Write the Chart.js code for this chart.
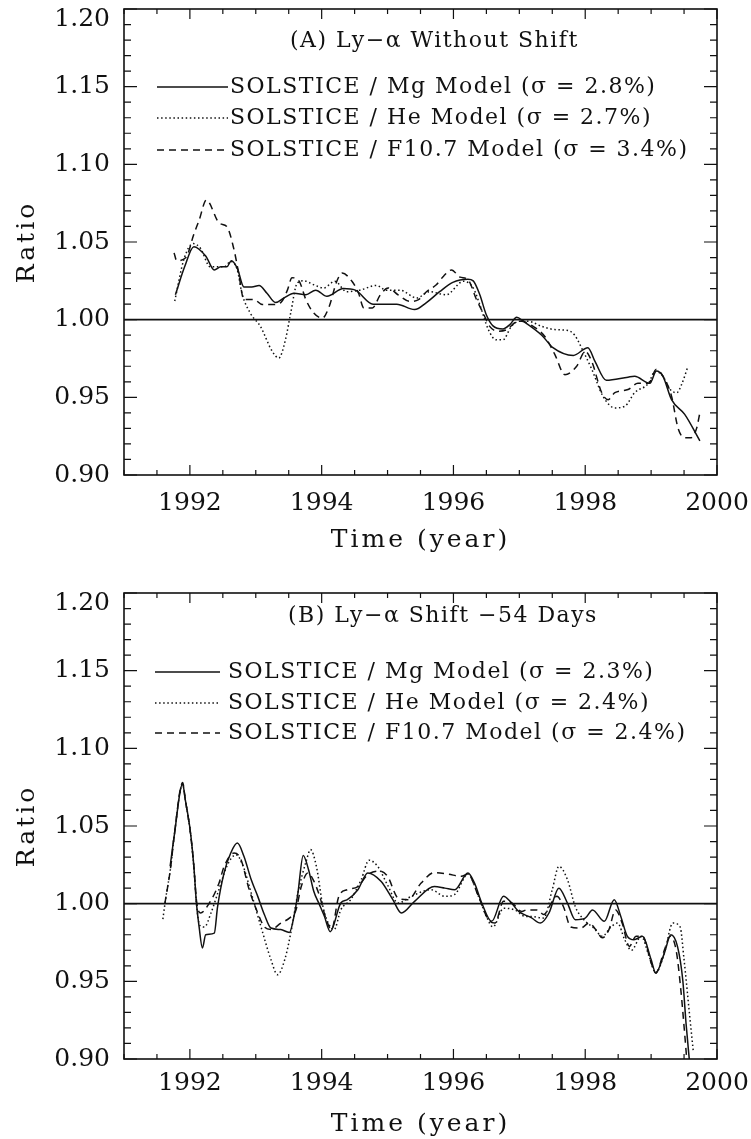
<!DOCTYPE html>
<html>
<head>
<meta charset="utf-8">
<script src="https://cdn.jsdelivr.net/npm/chart.js@4.4.0/dist/chart.umd.min.js"></script>
<style>
  body { margin: 0; background: #fff; width: 751px; height: 1139px; overflow: hidden; position: relative; }
  .panel { position: absolute; left: 0; width: 751px; }
  #panelA { top: -10px; height: 570px; }
  #panelB { top: 574px; height: 565px; }
</style>
</head>
<body>
<div class="panel" id="panelA"><canvas id="chartA"></canvas></div>
<div class="panel" id="panelB"><canvas id="chartB"></canvas></div>
<script>
// ---- data (year, ratio) ----
const unityYears = [1991, 2000];
const unityVals = [1, 1];

// (A) without shift
const yearsMgA = [1991.78, 1991.92, 1992.06, 1992.24, 1992.37, 1992.47, 1992.56, 1992.63, 1992.72, 1992.82, 1992.94, 1993.05, 1993.17, 1993.30, 1993.43, 1993.58, 1993.76, 1993.91, 1994.08, 1994.33, 1994.51, 1994.78, 1995.14, 1995.41, 1995.59, 1995.79, 1995.99, 1996.22, 1996.30, 1996.40, 1996.50, 1996.60, 1996.75, 1996.86, 1996.96, 1997.06, 1997.34, 1997.51, 1997.82, 1998.04, 1998.15, 1998.32, 1998.65, 1998.75, 1998.98, 1999.08, 1999.18, 1999.31, 1999.51, 1999.74];
const mgA = [1.016, 1.034, 1.047, 1.041, 1.032, 1.034, 1.034, 1.038, 1.033, 1.021, 1.021, 1.022, 1.017, 1.011, 1.014, 1.017, 1.016, 1.019, 1.015, 1.020, 1.019, 1.010, 1.010, 1.0065, 1.011, 1.018, 1.024, 1.026, 1.025, 1.016, 1.003, 0.996, 0.994, 0.997, 1.0015, 0.999, 0.990, 0.982, 0.977, 0.982, 0.973, 0.961, 0.963, 0.9635, 0.959, 0.967, 0.9635, 0.9485, 0.939, 0.922];

const yearsHeA = [1991.77, 1991.91, 1992.05, 1992.16, 1992.31, 1992.52, 1992.62, 1992.72, 1992.79, 1992.92, 1993.07, 1993.25, 1993.35, 1993.45, 1993.53, 1993.63, 1993.73, 1993.88, 1994.03, 1994.20, 1994.38, 1994.58, 1994.83, 1994.98, 1995.19, 1995.44, 1995.64, 1995.89, 1996.15, 1996.30, 1996.40, 1996.53, 1996.65, 1996.75, 1996.88, 1997.00, 1997.13, 1997.34, 1997.54, 1997.74, 1997.84, 1997.97, 1998.10, 1998.27, 1998.45, 1998.60, 1998.75, 1998.96, 1999.06, 1999.18, 1999.29, 1999.39, 1999.46, 1999.56];
const heA = [1.012, 1.039, 1.049, 1.046, 1.034, 1.034, 1.0375, 1.032, 1.017, 1.004, 0.9957, 0.9796, 0.9753, 0.987, 1.0043, 1.0236, 1.025, 1.0225, 1.0204, 1.0247, 1.018, 1.019, 1.022, 1.019, 1.019, 1.014, 1.018, 1.016, 1.0247, 1.0204, 1.0097, 0.9936, 0.987, 0.987, 0.9957, 0.999, 0.999, 0.9957, 0.9936, 0.993, 0.990, 0.9796, 0.968, 0.9507, 0.9432, 0.9442, 0.953, 0.959, 0.9667, 0.9635, 0.955, 0.953, 0.958, 0.970];

const yearsF107A = [1991.76, 1991.80, 1991.94, 1992.06, 1992.14, 1992.25, 1992.45, 1992.56, 1992.67, 1992.74, 1992.82, 1992.97, 1993.10, 1993.25, 1993.38, 1993.48, 1993.55, 1993.66, 1993.76, 1993.88, 1994.01, 1994.11, 1994.23, 1994.31, 1994.46, 1994.56, 1994.64, 1994.77, 1994.89, 1995.01, 1995.16, 1995.34, 1995.47, 1995.59, 1995.74, 1995.85, 1995.97, 1996.10, 1996.22, 1996.35, 1996.45, 1996.55, 1996.68, 1996.81, 1996.93, 1997.03, 1997.21, 1997.39, 1997.54, 1997.69, 1997.87, 1998.00, 1998.10, 1998.25, 1998.35, 1998.45, 1998.65, 1998.80, 1998.96, 1999.08, 1999.21, 1999.31, 1999.41, 1999.51, 1999.61, 1999.69, 1999.74];
const f107A = [1.043, 1.038, 1.040, 1.055, 1.064, 1.077, 1.062, 1.060, 1.045, 1.030, 1.013, 1.013, 1.0097, 1.0097, 1.011, 1.019, 1.027, 1.0247, 1.0129, 1.0043, 1.001, 1.008, 1.0247, 1.030, 1.0247, 1.017, 1.0075, 1.0075, 1.016, 1.0204, 1.016, 1.0118, 1.0129, 1.018, 1.0225, 1.028, 1.032, 1.0274, 1.0258, 1.0129, 1.0043, 0.9957, 0.9925, 0.9936, 0.998, 0.999, 0.9957, 0.989, 0.9775, 0.9646, 0.970, 0.9796, 0.973, 0.953, 0.9485, 0.953, 0.955, 0.959, 0.959, 0.968, 0.9614, 0.9507, 0.930, 0.924, 0.924, 0.930, 0.940];

// (B) shifted -54 days
const yearsMgB = [1991.70, 1991.76, 1991.89, 1991.93, 1992.01, 1992.06, 1992.10, 1992.14, 1992.19, 1992.24, 1992.37, 1992.42, 1992.52, 1992.62, 1992.72, 1992.82, 1992.93, 1993.03, 1993.13, 1993.23, 1993.38, 1993.51, 1993.59, 1993.64, 1993.72, 1993.80, 1993.88, 1993.96, 1994.04, 1994.13, 1994.29, 1994.39, 1994.55, 1994.70, 1994.90, 1995.08, 1995.21, 1995.41, 1995.71, 1995.87, 1996.02, 1996.22, 1996.32, 1996.43, 1996.58, 1996.76, 1996.86, 1996.99, 1997.18, 1997.32, 1997.45, 1997.60, 1997.73, 1997.85, 1998.00, 1998.11, 1998.29, 1998.44, 1998.54, 1998.64, 1998.74, 1998.87, 1999.00, 1999.07, 1999.20, 1999.30, 1999.40, 1999.48, 1999.53, 1999.59];
const mgB = [1.024, 1.043, 1.077, 1.067, 1.0455, 1.024, 1.000, 0.985, 0.9715, 0.980, 0.981, 0.998, 1.020, 1.0326, 1.039, 1.0305, 1.0155, 1.0047, 0.993, 0.9843, 0.9833, 0.9815, 0.994, 1.007, 1.031, 1.022, 1.008, 1.000, 0.992, 0.982, 1.0004, 1.0026, 1.009, 1.0198, 1.0144, 1.0026, 0.994, 1.0015, 1.011, 1.010, 1.009, 1.0198, 1.0133, 1.0004, 0.9886, 1.0047, 1.0015, 0.995, 0.991, 0.9875, 0.994, 1.010, 1.0004, 0.9897, 0.9907, 0.996, 0.9886, 1.0026, 0.9918, 0.979, 0.9768, 0.979, 0.964, 0.9554, 0.968, 0.980, 0.9725, 0.951, 0.923, 0.895];

const yearsHeB = [1991.59, 1991.63, 1991.71, 1991.76, 1991.89, 1991.93, 1992.01, 1992.06, 1992.10, 1992.15, 1992.22, 1992.32, 1992.44, 1992.56, 1992.70, 1992.80, 1992.93, 1993.08, 1993.23, 1993.33, 1993.44, 1993.54, 1993.64, 1993.77, 1993.83, 1993.92, 1994.02, 1994.10, 1994.19, 1994.29, 1994.44, 1994.60, 1994.72, 1994.85, 1995.00, 1995.16, 1995.36, 1995.66, 1995.87, 1996.02, 1996.22, 1996.38, 1996.50, 1996.60, 1996.76, 1996.93, 1997.09, 1997.17, 1997.37, 1997.50, 1997.60, 1997.73, 1997.85, 1997.98, 1998.13, 1998.26, 1998.39, 1998.49, 1998.60, 1998.70, 1998.85, 1998.97, 1999.07, 1999.20, 1999.33, 1999.44, 1999.50, 1999.58, 1999.64];
const heB = [0.990, 1.0026, 1.024, 1.043, 1.077, 1.067, 1.045, 1.024, 1.000, 0.986, 0.985, 0.994, 1.009, 1.024, 1.0315, 1.025, 1.007, 0.985, 0.964, 0.9543, 0.964, 0.983, 1.007, 1.028, 1.0348, 1.024, 0.998, 0.9875, 0.9833, 0.996, 1.0026, 1.0155, 1.028, 1.024, 1.012, 1.0004, 1.0047, 1.009, 1.0047, 1.006, 1.019, 1.0047, 0.9918, 0.985, 0.997, 0.996, 0.9918, 0.9918, 0.9907, 1.009, 1.024, 1.0155, 0.998, 0.9897, 0.9843, 0.979, 0.985, 0.9875, 0.9768, 0.970, 0.979, 0.966, 0.9554, 0.968, 0.9875, 0.985, 0.964, 0.930, 0.905];

const yearsF107B = [1991.62, 1991.71, 1991.76, 1991.89, 1991.93, 1992.01, 1992.06, 1992.10, 1992.16, 1992.29, 1992.44, 1992.52, 1992.67, 1992.77, 1992.90, 1993.03, 1993.13, 1993.23, 1993.38, 1993.51, 1993.61, 1993.69, 1993.79, 1993.87, 1993.97, 1994.07, 1994.15, 1994.26, 1994.39, 1994.55, 1994.70, 1994.88, 1995.00, 1995.16, 1995.31, 1995.51, 1995.71, 1995.92, 1996.12, 1996.22, 1996.38, 1996.53, 1996.63, 1996.76, 1996.89, 1997.04, 1997.11, 1997.27, 1997.37, 1997.50, 1997.57, 1997.67, 1997.78, 1997.93, 1998.06, 1998.16, 1998.26, 1998.36, 1998.46, 1998.56, 1998.67, 1998.77, 1998.87, 1999.00, 1999.07, 1999.20, 1999.29, 1999.38, 1999.45, 1999.50, 1999.55];
const f107B = [1.000, 1.024, 1.043, 1.078, 1.067, 1.045, 1.024, 1.002, 0.994, 1.000, 1.013, 1.024, 1.0326, 1.029, 1.009, 0.994, 0.985, 0.9833, 0.9875, 0.9907, 0.996, 1.011, 1.0198, 1.0155, 1.0047, 0.9897, 0.9833, 1.0047, 1.009, 1.011, 1.0187, 1.021, 1.0176, 1.0036, 1.0026, 1.0133, 1.020, 1.019, 1.0176, 1.019, 1.0047, 0.9897, 0.9875, 1.0015, 1.0004, 0.995, 0.996, 0.996, 0.993, 1.0015, 1.0047, 0.998, 0.985, 0.9843, 0.9875, 0.9833, 0.978, 0.9833, 0.996, 0.9875, 0.9725, 0.979, 0.979, 0.962, 0.9554, 0.970, 0.979, 0.970, 0.945, 0.921, 0.895];

const legendA = ["SOLSTICE / Mg Model (σ = 2.8%)", "SOLSTICE / He Model (σ = 2.7%)", "SOLSTICE / F10.7 Model (σ = 3.4%)"];
const legendB = ["SOLSTICE / Mg Model (σ = 2.3%)", "SOLSTICE / He Model (σ = 2.4%)", "SOLSTICE / F10.7 Model (σ = 2.4%)"];

// ---- styling ----
const ink = "#111";
const serif = "'DejaVu Serif', 'Liberation Serif', serif";
const dashes = [[], [1.5, 2.6], [7, 5]];

function pairs(xs, ys) {
  return xs.map((x, i) => ({ x: x, y: ys[i] }));
}

function curve(xs, ys, dash) {
  return {
    data: pairs(xs, ys),
    borderColor: ink,
    borderWidth: 1.5,
    borderDash: dash,
    pointRadius: 0,
    cubicInterpolationMode: "monotone",
    fill: false
  };
}

const isTop = v => v > 1.199;

// frame, inward ticks, axis titles, panel title and legend drawn on top
const framePlugin = {
  id: "frame",
  afterDraw(chart, args, opts) {
    const { ctx, chartArea: a, scales } = chart;
    const x = scales.x, y = scales.y;
    ctx.save();
    ctx.strokeStyle = ink;
    ctx.lineWidth = 1.6;
    ctx.strokeRect(a.left, a.top, a.right - a.left, a.bottom - a.top);

    ctx.lineWidth = 1.2;
    ctx.beginPath();
    x.ticks.forEach(t => {
      const px = x.getPixelForValue(t.value);
      const len = t.label ? 10 : 5;
      ctx.moveTo(px, a.bottom); ctx.lineTo(px, a.bottom - len);
      ctx.moveTo(px, a.top); ctx.lineTo(px, a.top + len);
    });
    y.ticks.forEach(t => {
      const py = y.getPixelForValue(t.value);
      const len = t.label ? 13 : 7;
      ctx.moveTo(a.left, py); ctx.lineTo(a.left + len, py);
      ctx.moveTo(a.right, py); ctx.lineTo(a.right - len, py);
    });
    ctx.stroke();

    ctx.fillStyle = ink;
    ctx.textBaseline = "middle";

    // axis titles
    ctx.font = "25px " + serif;
    ctx.letterSpacing = "3px";
    ctx.textAlign = "center";
    ctx.fillText("Time (year)", (a.left + a.right) / 2, opts.xTitleY);
    ctx.save();
    ctx.translate(27, (a.top + a.bottom) / 2);
    ctx.rotate(-Math.PI / 2);
    ctx.fillText("Ratio", 0, 0);
    ctx.restore();

    // panel title and legend
    ctx.textAlign = "left";
    ctx.font = "22px " + serif;
    ctx.letterSpacing = "1.5px";
    ctx.fillText(opts.title, opts.titleX, a.top + opts.titleDy);

    opts.labels.forEach((label, i) => {
      const ly = a.top + opts.rowDy[i];
      ctx.lineWidth = 1.4;
      ctx.setLineDash(dashes[i]);
      ctx.beginPath();
      ctx.moveTo(opts.lineX[0], ly);
      ctx.lineTo(opts.lineX[1], ly);
      ctx.stroke();
      ctx.setLineDash([]);
      ctx.fillText(label, opts.textX, ly);
    });
    ctx.letterSpacing = "0px";
    ctx.restore();
  }
};

function makeChart(id, series, frameOpts, xAxisHeight, xTickPad) {
  return new Chart(document.getElementById(id), {
    type: "line",
    data: {
      datasets: [
        { data: pairs(unityYears, unityVals), borderColor: ink, borderWidth: 1.6, pointRadius: 0 },
        curve(series[0][0], series[0][1], dashes[0]),
        curve(series[1][0], series[1][1], dashes[1]),
        curve(series[2][0], series[2][1], dashes[2])
      ]
    },
    options: {
      responsive: true,
      maintainAspectRatio: false,
      animation: false,
      devicePixelRatio: 1,
      layout: { padding: { top: 19, right: 34, left: 0, bottom: 0 } },
      plugins: {
        legend: { display: false },
        tooltip: { enabled: false },
        frame: frameOpts
      },
      scales: {
        x: {
          type: "linear",
          min: 1991,
          max: 2000,
          afterFit: s => {
            s.height = xAxisHeight;
            s.paddingLeft = 0;
            s.paddingRight = 0;
          },
          grid: { display: false, drawTicks: false },
          border: { display: false },
          ticks: {
            stepSize: 0.5,
            autoSkip: false,
            maxRotation: 0,
            padding: xTickPad,
            color: ink,
            font: { family: serif, size: 25 },
            callback: v => (Number.isInteger(v) && v % 2 === 0) ? String(v) : ""
          }
        },
        y: {
          min: 0.9,
          max: 1.2,
          afterFit: s => {
            s.width = 124;
            s.paddingTop = 0;
            s.paddingBottom = 0;
          },
          grid: { display: false, drawTicks: false },
          border: { display: false },
          ticks: {
            stepSize: 0.01,
            maxTicksLimit: 100,
            autoSkip: false,
            padding: 14,
            color: ink,
            // the top label sits a little below its tick, as in the figure
            font: c => ({ family: serif, size: 25, lineHeight: (c.tick && isTop(c.tick.value)) ? 0.8 : 1.2 }),
            callback: v => {
              if (Math.round(v * 100) % 5 !== 0) return "";
              return isTop(v) ? ["", v.toFixed(2)] : v.toFixed(2);
            }
          }
        }
      }
    },
    plugins: [framePlugin]
  });
}

makeChart("chartA",
  [[yearsMgA, mgA], [yearsHeA, heA], [yearsF107A, f107A]],
  { title: "(A) Ly−α Without Shift", titleX: 290, titleDy: 32,
    labels: legendA, rowDy: [78, 109, 141], lineX: [157, 228], textX: 230, xTitleY: 550 },
  85, 13);

makeChart("chartB",
  [[yearsMgB, mgB], [yearsHeB, heB], [yearsF107B, f107B]],
  { title: "(B) Ly−α Shift −54 Days", titleX: 288, titleDy: 23,
    labels: legendB, rowDy: [79, 110, 140], lineX: [155, 220], textX: 228, xTitleY: 550 },
  80, 9);
</script>
</body>
</html>
